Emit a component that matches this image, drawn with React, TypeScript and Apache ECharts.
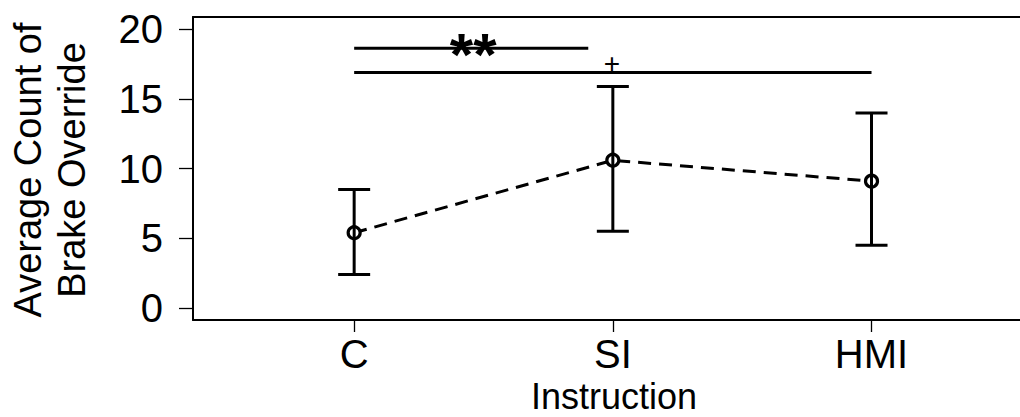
import React, { useEffect, useRef } from "react";
import * as echarts from "echarts";

// Instruction conditions and their brake-override counts (mean with error range)
const categories = ["C", "SI", "HMI"];
const means = [5.4, 10.6, 9.1];
const lowers = [2.4, 5.5, 4.5];
const uppers = [8.5, 15.9, 14.0];
const yTicks = [0, 5, 10, 15, 20];

// Significance annotations: start/end positions on the x scale, level on the y scale
const bracketStart = [0, 0];
const bracketEnd = [0.905, 2];
const bracketLevel = [18.64, 16.9];
const bracketLabel = ["**", "+"];

const FONT = "Liberation Sans, Arial, sans-serif";
const X_MIN = -0.623;
const X_MAX = 2.574;

export default function App() {
  const ref = useRef<HTMLDivElement>(null);

  useEffect(() => {
    if (!ref.current) return;
    const chart = echarts.init(ref.current, undefined, { renderer: "svg" });

    const points = categories.map((_, i) => [i, means[i]]);
    const errData = categories.map((_, i) => [i, lowers[i], uppers[i]]);
    const bracketData = bracketLabel.map((_, i) => [
      bracketStart[i],
      bracketEnd[i],
      bracketLevel[i],
      i,
    ]);

    const frameLine = { show: true, onZero: false, lineStyle: { color: "#000", width: 2 } };

    chart.setOption({
      animation: false,
      backgroundColor: "#fff",
      textStyle: { fontFamily: FONT },
      grid: { left: 193, top: 17, right: 0, bottom: 97, show: false },
      xAxis: [
        {
          type: "value",
          position: "bottom",
          min: X_MIN,
          max: X_MAX,
          splitLine: { show: false },
          axisLine: frameLine,
          axisTick: {
            show: true,
            customValues: [0, 1, 2],
            length: 12,
            lineStyle: { color: "#000", width: 1.3 },
          },
          axisLabel: {
            customValues: [0, 1, 2],
            formatter: (v: number) => categories[Math.round(v)] ?? "",
            color: "#000",
            fontSize: 40,
            lineHeight: 32,
            fontFamily: FONT,
            margin: 18,
          },
        },
        {
          // top edge of the plot frame
          type: "value",
          position: "top",
          min: X_MIN,
          max: X_MAX,
          splitLine: { show: false },
          axisLine: frameLine,
          axisTick: { show: false },
          axisLabel: { show: false },
        },
      ],
      yAxis: {
        type: "value",
        min: -0.861,
        max: 20.883,
        splitLine: { show: false },
        axisLine: frameLine,
        axisTick: {
          show: true,
          customValues: yTicks,
          length: 14,
          lineStyle: { color: "#000", width: 1.3 },
        },
        axisLabel: {
          customValues: yTicks,
          color: "#000",
          fontSize: 40,
          fontFamily: FONT,
          margin: 30,
          padding: [10, 0, 0, 0],
        },
      },
      graphic: [
        {
          type: "text",
          x: 28,
          y: 170,
          rotation: Math.PI / 2,
          style: {
            text: "Average Count of",
            fontSize: 38,
            fontFamily: FONT,
            fill: "#000",
            align: "center",
            verticalAlign: "middle",
          },
        },
        {
          type: "text",
          x: 72,
          y: 170,
          rotation: Math.PI / 2,
          style: {
            text: "Brake Override",
            fontSize: 38,
            fontFamily: FONT,
            fill: "#000",
            align: "center",
            verticalAlign: "middle",
          },
        },
        {
          type: "text",
          x: 614,
          y: 396.5,
          style: {
            text: "Instruction",
            fontSize: 36,
            lineHeight: 28,
            fontFamily: FONT,
            fill: "#000",
            align: "center",
            verticalAlign: "middle",
          },
        },
      ],
      series: [
        {
          type: "line",
          data: points,
          z: 2,
          symbol: "circle",
          symbolSize: 12,
          lineStyle: { color: "#000", width: 3, type: [13, 8] },
          itemStyle: { color: "#fff", borderColor: "#000", borderWidth: 3.2 },
        },
        {
          type: "custom",
          data: errData,
          z: 3,
          renderItem: (params: any, api: any) => {
            const x = api.value(0);
            const lo = api.coord([x, api.value(1)]);
            const hi = api.coord([x, api.value(2)]);
            const half = 16;
            const style = { stroke: "#000", lineWidth: 3 };
            return {
              type: "group",
              children: [
                { type: "line", shape: { x1: lo[0], y1: lo[1], x2: hi[0], y2: hi[1] }, style },
                { type: "line", shape: { x1: hi[0] - half, y1: hi[1], x2: hi[0] + half, y2: hi[1] }, style },
                { type: "line", shape: { x1: lo[0] - half, y1: lo[1], x2: lo[0] + half, y2: lo[1] }, style },
              ],
            };
          },
        },
        {
          type: "custom",
          data: bracketData,
          z: 3,
          renderItem: (params: any, api: any) => {
            const a = api.coord([api.value(0), api.value(2)]);
            const b = api.coord([api.value(1), api.value(2)]);
            const idx = api.value(3);
            const label = bracketLabel[idx];
            const big = label === "**";
            const mid = (a[0] + b[0]) / 2;
            return {
              type: "group",
              children: [
                {
                  type: "line",
                  shape: { x1: a[0], y1: a[1], x2: b[0], y2: b[1] },
                  style: { stroke: "#000", lineWidth: 3 },
                },
                {
                  type: "text",
                  x: big ? mid + 2 : mid - 1,
                  y: big ? a[1] + 6 : a[1] - 9,
                  style: {
                    text: label,
                    fontSize: big ? 60 : 28,
                    fontWeight: big ? "bold" : "normal",
                    fontFamily: FONT,
                    fill: "#000",
                    align: "center",
                    verticalAlign: "middle",
                  },
                },
              ],
            };
          },
        },
      ],
    });

    return () => chart.dispose();
  }, []);

  return (
    <div
      ref={ref}
      style={{ position: "fixed", left: 0, top: 0, width: 1020, height: 417, background: "#fff" }}
    />
  );
}
